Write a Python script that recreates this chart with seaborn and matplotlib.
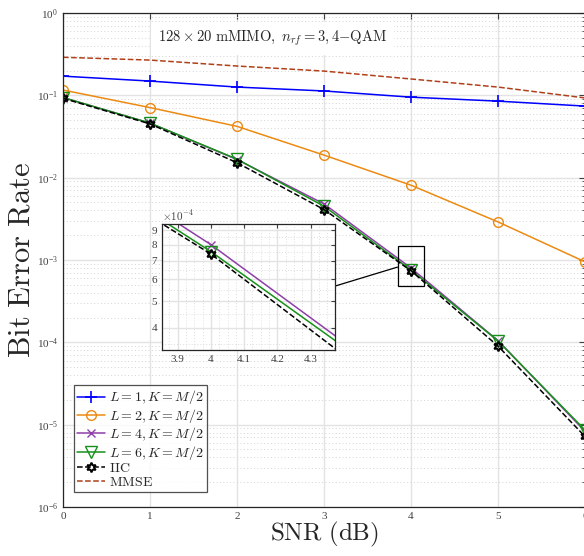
import numpy as np
import pandas as pd
import seaborn as sns
import matplotlib.pyplot as plt
from matplotlib.ticker import LogLocator, LogFormatterMathtext, NullFormatter
from matplotlib.patches import Rectangle

sns.set_style("white")
plt.rcParams['font.family'] = 'serif'
plt.rcParams['font.serif'] = ['Liberation Serif', 'DejaVu Serif']
plt.rcParams['mathtext.fontset'] = 'cm'

# BER curves
snr = [0, 1, 2, 3, 4, 5, 6]
ber_L1 = [0.171, 0.149, 0.126, 0.113, 0.095, 0.085, 0.074]
ber_L2 = [0.116, 0.071, 0.042, 0.0188, 0.0081, 0.0029, 0.00095]
ber_L4 = [0.094, 0.046, 0.0166, 0.0048, 0.00080, 0.000105, 8.3e-6]
ber_L6 = [0.094, 0.046, 0.0168, 0.0045, 0.000755, 0.000104, 8.6e-6]
ber_IIC = [0.092, 0.045, 0.0152, 0.0041, 0.00074, 0.00009, 7.2e-6]
ber_MMSE = [0.29, 0.268, 0.227, 0.197, 0.158, 0.126, 0.093]

labels = [r'$L=1, K=M/2$', r'$L=2, K=M/2$', r'$L=4, K=M/2$',
          r'$L=6, K=M/2$', r'$\mathrm{IIC}$', r'$\mathrm{MMSE}$']
colors = ['#0000ff', '#ec8a12', '#8e3fa8', '#17901a', '#000000', '#b0401a']

# zoom window drawn on the main plot and the inset limits
zoom_x = [3.845, 4.145]
zoom_y = [4.8e-4, 1.48e-3]
inset_xlim = [3.853, 4.373]
inset_ylim = [3.33e-4, 9.5e-4]

df = pd.DataFrame({'snr': snr, 'L1': ber_L1, 'L2': ber_L2, 'L4': ber_L4,
                   'L6': ber_L6, 'IIC': ber_IIC, 'MMSE': ber_MMSE})

styles = {
    'L1': dict(marker='+', markersize=9, linestyle='-', mew=1.2, mfc='none'),
    'L2': dict(marker='o', markersize=7, linestyle='-', mew=1.0, mfc='none'),
    'L4': dict(marker='x', markersize=6, linestyle='-', mew=1.0, mfc='none'),
    'L6': dict(marker='v', markersize=8, linestyle='-', mew=1.0, mfc='none'),
    'IIC': dict(marker=(6, 1, 0), markersize=7, linestyle='--', mew=1.4, mfc='none'),
    'MMSE': dict(marker='', linestyle='--', mew=1.0),
}


def draw(ax, lw=1.1):
    for key, lab, c in zip(['L1', 'L2', 'L4', 'L6', 'IIC', 'MMSE'], labels, colors):
        st = dict(styles[key])
        sns.lineplot(data=df, x='snr', y=key, ax=ax, color=c, label=lab,
                     linewidth=lw, markeredgecolor=c, **st)


fig = plt.figure(figsize=(5.84, 5.56), dpi=100)
ax = fig.add_axes([63 / 584, 1 - 507 / 556, 522 / 584, 494 / 556])
draw(ax)
ax.set_yscale('log')
ax.set_xlim(0, 6)
ax.set_ylim(1e-6, 1)
ax.set_xticks(range(7))
ax.yaxis.set_major_locator(LogLocator(base=10, numticks=10))
ax.yaxis.set_minor_locator(LogLocator(base=10, subs=np.arange(2, 10), numticks=20))
ax.yaxis.set_major_formatter(LogFormatterMathtext())
ax.yaxis.set_minor_formatter(NullFormatter())
ax.grid(which='major', color='#e3e3e3', linestyle='-', linewidth=1.0)
ax.grid(which='minor', axis='y', color='#d4d4d4', linestyle=(0, (1, 2.5)), linewidth=0.7)
ax.tick_params(which='both', direction='in', top=True, right=True,
               labelsize=8, colors='#404040', length=4)
ax.tick_params(which='minor', length=2.5)
for s in ax.spines.values():
    s.set_color('#262626')
    s.set_linewidth(0.9)
ax.set_xlabel(r'$\mathrm{SNR\ (dB)}$', fontsize=18, color='#262626', labelpad=-1)
ax.set_ylabel(r'$\mathrm{Bit\ Error\ Rate}$', fontsize=22, color='#262626', labelpad=0)

ax.text(1.09, 0.49, r'$128\times 20\ \mathrm{mMIMO},\ n_{rf}=3, 4\mathrm{-QAM}$',
        transform=ax.transData, fontsize=10.5, va='center', ha='left',
        bbox=dict(facecolor='white', edgecolor='none', pad=5))

leg = ax.legend(loc='upper left', bbox_to_anchor=(0.021, 0.247), borderaxespad=0,
                fontsize=10, frameon=True, fancybox=False, edgecolor='#262626',
                handlelength=2.0, handletextpad=0.25, labelspacing=0.03,
                borderpad=0.25)
leg.get_frame().set_linewidth(0.9)

# zoom rectangle and connector
ax.add_patch(Rectangle((zoom_x[0], zoom_y[0]), zoom_x[1] - zoom_x[0],
                       zoom_y[1] - zoom_y[0], fill=False, edgecolor='black',
                       linewidth=0.9, zorder=5))
ax.plot([3.126, zoom_x[0]], [4.82e-4, 8.2e-4], color='black', linewidth=0.9, zorder=5)

# inset
axin = fig.add_axes([162 / 584, 1 - 350 / 556, 173 / 584, 126 / 556])
draw(axin, lw=1.1)
axin.get_legend().remove()
axin.set_yscale('log')
axin.set_xlim(inset_xlim)
axin.set_ylim(inset_ylim)
axin.set_xticks([3.9, 4.0, 4.1, 4.2, 4.3])
axin.set_xticklabels(['3.9', '4', '4.1', '4.2', '4.3'])
yt = [4e-4, 5e-4, 6e-4, 7e-4, 8e-4, 9e-4]
axin.set_yticks(yt)
axin.set_yticklabels(['4', '5', '6', '7', '8', '9'])
axin.set_xlabel('')
axin.set_ylabel('')
axin.grid(which='major', color='#e3e3e3', linestyle='-', linewidth=1.0)
axin.set_xticks(np.arange(3.875, 4.375, 0.025), minor=True)
axin.set_yticks(np.arange(3.5e-4, 9.5e-4, 0.5e-4), minor=True)
axin.yaxis.set_minor_formatter(NullFormatter())
axin.xaxis.set_minor_formatter(NullFormatter())
axin.grid(which='minor', color='#d4d4d4', linestyle=(0, (1, 2.5)), linewidth=0.6)
axin.tick_params(which='both', direction='in', top=True, right=True,
                 labelsize=8, colors='#404040', length=3)
axin.tick_params(which='minor', length=0)
for s in axin.spines.values():
    s.set_color('#262626')
    s.set_linewidth(0.9)
axin.text(0.0, 1.01, r'$\times10^{-4}$', transform=axin.transAxes, fontsize=8,
          color='#404040', ha='left', va='bottom')
axin.set_facecolor('white')

fig.savefig('out.png', dpi=100)
